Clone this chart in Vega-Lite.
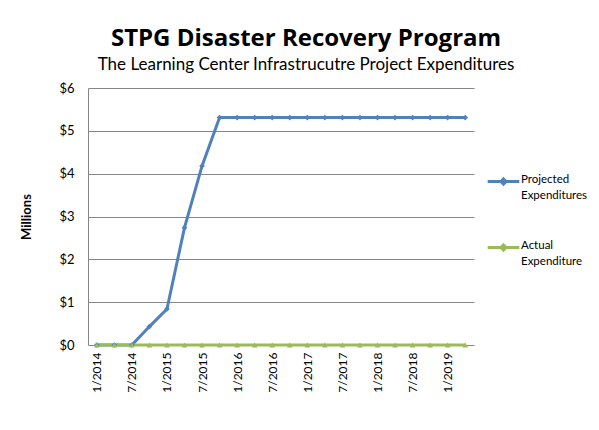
{
  "$schema": "https://vega.github.io/schema/vega-lite/v6.json",
  "width": 386,
  "height": 257,
  "autosize": {"type": "none"},
  "padding": {"left": 88, "top": 88, "right": 125, "bottom": 85},
  "background": "white",
  "config": {
    "font": "Lato",
    "view": {"stroke": null}
  },
  "title": {
    "text": "STPG Disaster Recovery Program",
    "subtitle": "The Learning Center Infrastrucutre Project Expenditures",
    "anchor": "middle",
    "frame": "group",
    "dx": 25,
    "offset": 9,
    "font": "Open Sans",
    "fontSize": 24,
    "fontWeight": "bold",
    "color": "#000000",
    "subtitleFont": "Lato",
    "subtitleFontSize": 17,
    "subtitleColor": "#000000",
    "subtitlePadding": 6
  },
  "data": {
    "values": [
      {"date": "1/2014", "series": "Projected Expenditures", "value": 0},
      {"date": "4/2014", "series": "Projected Expenditures", "value": 0},
      {"date": "7/2014", "series": "Projected Expenditures", "value": 0},
      {"date": "10/2014", "series": "Projected Expenditures", "value": 0.43},
      {"date": "1/2015", "series": "Projected Expenditures", "value": 0.84},
      {"date": "4/2015", "series": "Projected Expenditures", "value": 2.74},
      {"date": "7/2015", "series": "Projected Expenditures", "value": 4.18},
      {"date": "10/2015", "series": "Projected Expenditures", "value": 5.31},
      {"date": "1/2016", "series": "Projected Expenditures", "value": 5.31},
      {"date": "4/2016", "series": "Projected Expenditures", "value": 5.31},
      {"date": "7/2016", "series": "Projected Expenditures", "value": 5.31},
      {"date": "10/2016", "series": "Projected Expenditures", "value": 5.31},
      {"date": "1/2017", "series": "Projected Expenditures", "value": 5.31},
      {"date": "4/2017", "series": "Projected Expenditures", "value": 5.31},
      {"date": "7/2017", "series": "Projected Expenditures", "value": 5.31},
      {"date": "10/2017", "series": "Projected Expenditures", "value": 5.31},
      {"date": "1/2018", "series": "Projected Expenditures", "value": 5.31},
      {"date": "4/2018", "series": "Projected Expenditures", "value": 5.31},
      {"date": "7/2018", "series": "Projected Expenditures", "value": 5.31},
      {"date": "10/2018", "series": "Projected Expenditures", "value": 5.31},
      {"date": "1/2019", "series": "Projected Expenditures", "value": 5.31},
      {"date": "4/2019", "series": "Projected Expenditures", "value": 5.31},
      {"date": "1/2014", "series": "Actual Expenditure", "value": 0},
      {"date": "4/2014", "series": "Actual Expenditure", "value": 0},
      {"date": "7/2014", "series": "Actual Expenditure", "value": 0},
      {"date": "10/2014", "series": "Actual Expenditure", "value": 0},
      {"date": "1/2015", "series": "Actual Expenditure", "value": 0},
      {"date": "4/2015", "series": "Actual Expenditure", "value": 0},
      {"date": "7/2015", "series": "Actual Expenditure", "value": 0},
      {"date": "10/2015", "series": "Actual Expenditure", "value": 0},
      {"date": "1/2016", "series": "Actual Expenditure", "value": 0},
      {"date": "4/2016", "series": "Actual Expenditure", "value": 0},
      {"date": "7/2016", "series": "Actual Expenditure", "value": 0},
      {"date": "10/2016", "series": "Actual Expenditure", "value": 0},
      {"date": "1/2017", "series": "Actual Expenditure", "value": 0},
      {"date": "4/2017", "series": "Actual Expenditure", "value": 0},
      {"date": "7/2017", "series": "Actual Expenditure", "value": 0},
      {"date": "10/2017", "series": "Actual Expenditure", "value": 0},
      {"date": "1/2018", "series": "Actual Expenditure", "value": 0},
      {"date": "4/2018", "series": "Actual Expenditure", "value": 0},
      {"date": "7/2018", "series": "Actual Expenditure", "value": 0},
      {"date": "10/2018", "series": "Actual Expenditure", "value": 0},
      {"date": "1/2019", "series": "Actual Expenditure", "value": 0},
      {"date": "4/2019", "series": "Actual Expenditure", "value": 0}
    ]
  },
  "encoding": {
    "x": {
      "field": "date",
      "type": "nominal",
      "sort": null,
      "scale": {"type": "point", "padding": 0.5},
      "axis": {
        "title": null,
        "values": ["1/2014", "7/2014", "1/2015", "7/2015", "1/2016", "7/2016", "1/2017", "7/2017", "1/2018", "7/2018", "1/2019"],
        "labelAngle": -90,
        "labelFontSize": 12,
        "labelColor": "#000000",
        "labelPadding": 7,
        "ticks": false,
        "domain": false,
        "grid": false
      }
    },
    "y": {
      "field": "value",
      "type": "quantitative",
      "scale": {"domain": [0, 6], "nice": false},
      "axis": {
        "title": "Millions",
        "titleFontSize": 13,
        "titleFontWeight": "bold",
        "titleColor": "#000000",
        "titlePadding": 25,
        "values": [0, 1, 2, 3, 4, 5, 6],
        "format": "$,.0f",
        "labelFontSize": 13,
        "labelColor": "#000000",
        "labelPadding": 14,
        "ticks": false,
        "domain": true,
        "domainColor": "#868686",
        "gridColor": "#868686",
        "gridWidth": 1
      }
    },
    "color": {
      "field": "series",
      "type": "nominal",
      "sort": ["Projected Expenditures", "Actual Expenditure"],
      "scale": {"domain": ["Projected Expenditures", "Actual Expenditure"], "range": ["#4F81BD", "#9BBB59"]},
      "legend": {
        "title": null,
        "orient": "none",
        "legendX": 398,
        "legendY": 76,
        "symbolType": "M-1,0H1M0,-0.16L0.16,0L0,0.16L-0.16,0Z",
        "symbolSize": 1000,
        "symbolStrokeWidth": 3,
        "labelExpr": "split(datum.label, ' ')",
        "labelFontSize": 11.5,
        "labelColor": "#000000",
        "labelBaseline": "top",
        "labelOffset": 0,
        "rowPadding": 29,
        "encode": {
          "labels": {"update": {"dy": {"value": -8}, "lineHeight": {"value": 16}}}
        }
      }
    }
  },
  "layer": [
    {
      "mark": {"type": "line", "strokeWidth": 3}
    },
    {
      "transform": [{"filter": "datum.series == 'Projected Expenditures'"}],
      "mark": {"type": "point", "filled": true, "size": 32, "opacity": 1, "shape": "diamond"}
    },
    {
      "transform": [{"filter": "datum.series == 'Actual Expenditure'"}],
      "mark": {"type": "point", "filled": true, "size": 32, "opacity": 1, "shape": "triangle-up"}
    }
  ]
}
